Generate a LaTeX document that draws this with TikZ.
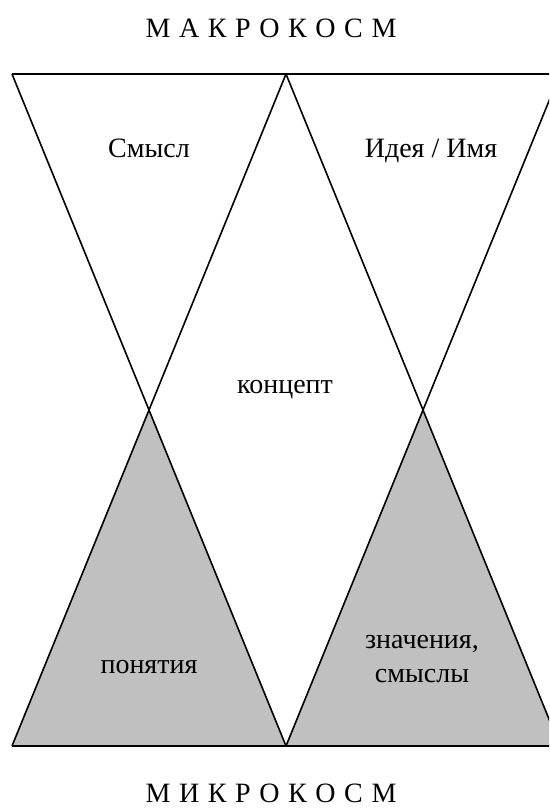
\documentclass[tikz,border=0pt]{standalone}
\usepackage{fontspec}
\setmainfont{Liberation Serif}
\begin{document}
\begin{tikzpicture}[x=1pt,y=-1pt,
  lbl/.style={font=\fontsize{28}{34}\selectfont, inner sep=0pt, anchor=base, align=center},
  edge/.style={draw=black, line width=1.6pt, line join=miter},
  grayfill/.style={fill={rgb,255:red,192;green,192;blue,192}}]
\useasboundingbox (0,0) rectangle (549,811);
\begin{scope}
\clip (0,0) rectangle (549,811);
% coordinates
\coordinate (A) at (12,74);
\coordinate (B) at (286,74);
\coordinate (C) at (560,74);
\coordinate (D) at (12,746);
\coordinate (E) at (286,746);
\coordinate (F) at (560,746);
\coordinate (X1) at (149,410);
\coordinate (X2) at (423,410);
% gray lower triangles
\fill[grayfill] (X1) -- (D) -- (E) -- cycle;
\fill[grayfill] (X2) -- (E) -- (F) -- cycle;
% lines
\draw[edge] (A) -- (C);
\draw[edge] (D) -- (F);
\draw[edge] (A) -- (E);
\draw[edge] (B) -- (D);
\draw[edge] (B) -- (F);
\draw[edge] (C) -- (E);
\end{scope}
% texts
\node[lbl] (macro) at (271,37) {М\kern1.6pt{} А\kern1.6pt{} К\kern1.6pt{} Р\kern1.6pt{} О\kern1.6pt{} К\kern1.6pt{} О\kern1.6pt{} С\kern1.6pt{} М};
\node[lbl] (smysl) at (149,157) {Смысл};
\node[lbl] (idea) at (431,157) {Идея / Имя};
\node[lbl] (concept) at (285,393) {концепт};
\node[lbl] (ponyat) at (149,673) {понятия};
\node[lbl] (znach) at (422,648) {значения,};
\node[lbl] (smysly) at (422,682) {смыслы};
\node[lbl] (micro) at (271,802) {М\kern1.6pt{} И\kern1.6pt{} К\kern1.6pt{} Р\kern1.6pt{} О\kern1.6pt{} К\kern1.6pt{} О\kern1.6pt{} С\kern1.6pt{} М};
\end{tikzpicture}
\end{document}
